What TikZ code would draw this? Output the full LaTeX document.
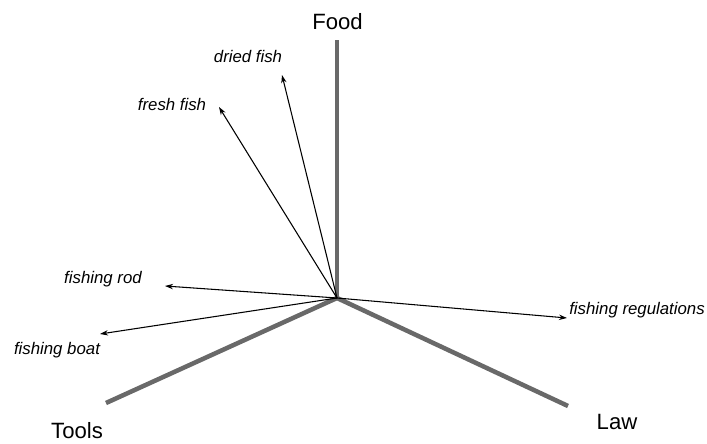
\documentclass[tikz,border=0pt]{standalone}
\usepackage{fontspec}
\setmainfont{Liberation Sans}
\usetikzlibrary{arrows.meta}
\begin{document}
\begin{tikzpicture}[x=0.75pt,y=-0.75pt,
  axisline/.style={line width=3.4pt,draw=axisgray},
  vec/.style={line width=0.8pt,-{Stealth[length=6pt,width=4pt]}},
  axislabel/.style={font=\fontsize{16.6pt}{19pt}\selectfont,inner sep=0pt},
  termlabel/.style={font=\fontsize{12.6pt}{15pt}\selectfont\itshape,inner sep=0pt}]
\definecolor{axisgray}{HTML}{696969}
\useasboundingbox (0,0) rectangle (707,443);

% origin and axis ends
\coordinate (O) at (337,298);
\coordinate (foodEnd) at (337,40);
\coordinate (toolsEnd) at (106,403);
\coordinate (lawEnd) at (568,406);

% axes
\draw[axisline] (O) -- (foodEnd);
\draw[axisline] (O) -- (toolsEnd);
\draw[axisline] (O) -- (lawEnd);

% axis labels
\node[axislabel] (food) at (337.5,22) {Food};
\node[axislabel] (tools) at (77,431) {Tools};
\node[axislabel] (law) at (617,422) {Law};

% term vectors
\coordinate (tDried) at (282,75);
\coordinate (tFresh) at (219,107);
\coordinate (tRod) at (165,286);
\coordinate (tBoat) at (100,334);
\coordinate (tReg) at (567,318);

\draw[vec] (O) -- (tDried);
\draw[vec] (O) -- (tFresh);
\draw[vec] (O) -- (tRod);
\draw[vec] (O) -- (tBoat);
\draw[vec] (O) -- (tReg);

% term labels
\node[termlabel] (dried) at (248,56) {dried fish};
\node[termlabel] (fresh) at (172,104) {fresh fish};
\node[termlabel] (rod) at (103,279) {fishing rod};
\node[termlabel] (boat) at (57,350) {fishing boat};
\node[termlabel] (reg) at (637,310) {fishing regulations};
\end{tikzpicture}
\end{document}
